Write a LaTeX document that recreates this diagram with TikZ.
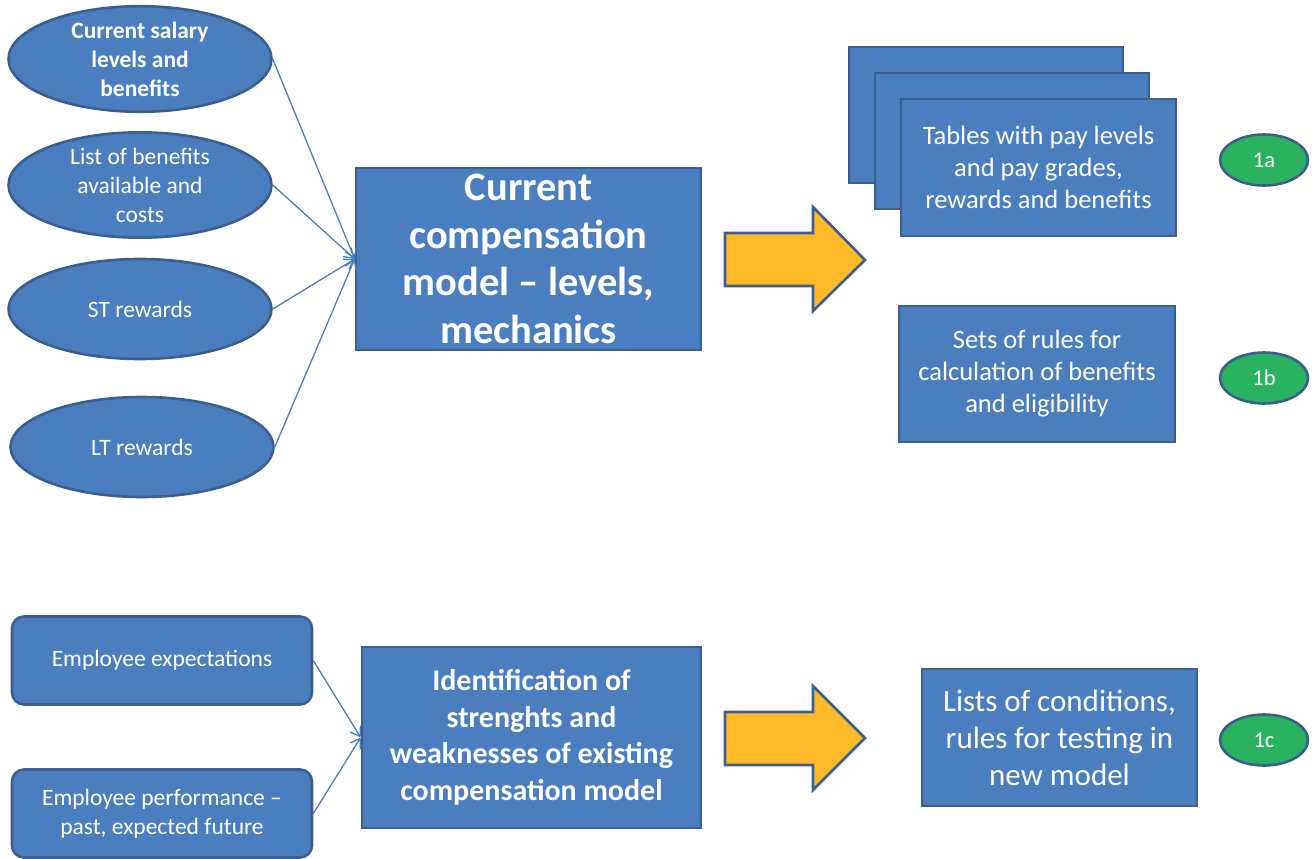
\documentclass[tikz,border=0pt]{standalone}
\usepackage{fontspec}
\setmainfont{Carlito}
\usetikzlibrary{shapes.geometric,arrows.meta}
\definecolor{boxfill}{HTML}{4A7EBF}
\definecolor{boxline}{HTML}{3B5F8E}
\definecolor{arrfill}{HTML}{FDB927}
\definecolor{grn}{HTML}{2AB35E}
\tikzset{
  base/.style={fill=boxfill,draw=boxline,line width=2.6pt,text=white,align=center,inner sep=0pt},
  oval/.style={base,ellipse,minimum width=263pt,minimum height=100pt,font=\fontsize{23.5}{29}\selectfont},
  sbox/.style={base,rectangle,font=\fontsize{26.5}{32}\selectfont},
  rbox/.style={base,rectangle,rounded corners=12pt,minimum width=300pt,minimum height=88pt,font=\fontsize{23.5}{29}\selectfont},
  tag/.style={base,ellipse,fill=grn,minimum width=88pt,minimum height=51pt,font=\fontsize{22.5}{24}\selectfont},
  conn/.style={draw=boxfill,line width=1.3pt,-{Straight Barb[length=9pt,width=12pt,line width=1.3pt]}},
  blockarrow/.style={fill=arrfill,draw=boxline,line width=2.6pt,line join=miter}
}
\begin{document}
\begin{tikzpicture}[x=1pt,y=-1pt]
\useasboundingbox (0,0) rectangle (1312,859);
% left ellipses
\node[oval,font=\bfseries\fontsize{23.5}{29}\selectfont] (e1) at (140,59) {Current salary\\levels and\\benefits};
\node[oval] (e2) at (140,185) {List of benefits\\available and\\costs};
\node[oval] (e3) at (140,309) {ST rewards};
\node[oval] (e4) at (142,447) {LT rewards};
% main box 1
\node[base,rectangle,minimum width=345pt,minimum height=182pt,font=\bfseries\fontsize{40.5}{47.5}\selectfont] (m1) at (528.5,259) {Current\\compensation\\model -- levels,\\mechanics};
\draw[conn] (e1.east) -- (m1.west);
\draw[conn] (e2.east) -- (m1.west);
\draw[conn] (e3.east) -- (m1.west);
\draw[conn] (e4.east) -- (m1.west);
% block arrow 1
\path[blockarrow] (725,233) -- (813,233) -- (813,207) -- (865,260) -- (813,311) -- (813,286) -- (725,286) -- cycle;
% stacked boxes
\node[sbox,minimum width=274pt,minimum height=136pt] (t1) at (986,115) {};
\node[sbox,minimum width=274pt,minimum height=136pt] (t2) at (1012,141) {};
\node[sbox,minimum width=275pt,minimum height=137pt] (t3) at (1038.5,167.5) {Tables with pay levels\\and pay grades,\\rewards and benefits};
\node[tag] (g1) at (1264,160) {1a};
% rules box
\node[sbox,minimum width=276pt,minimum height=136pt] (r1b) at (1037,374) {Sets of rules for\\calculation of benefits\\and eligibility};
\node[tag] (g2) at (1264,378) {1b};
% bottom section
\node[rbox] (p1) at (162,660.5) {Employee expectations};
\node[rbox] (p2) at (162,813.5) {Employee performance --\\past, expected future};
\node[base,rectangle,minimum width=339pt,minimum height=181pt,font=\bfseries\fontsize{30}{36.5}\selectfont] (m2) at (531.5,737.5) {Identification of\\strenghts and\\weaknesses of existing\\compensation model};
\draw[conn] (p1.east) -- (m2.west);
\draw[conn] (p2.east) -- (m2.west);
\path[blockarrow] (725,712) -- (813,712) -- (813,686) -- (865,738) -- (813,790) -- (813,765) -- (725,765) -- cycle;
\node[sbox,minimum width=275pt,minimum height=137pt,font=\fontsize{31}{37}\selectfont] (c1) at (1059.5,737.5) {Lists of conditions,\\rules for testing in\\new model};
\node[tag] (g3) at (1264,740) {1c};
\end{tikzpicture}
\end{document}
